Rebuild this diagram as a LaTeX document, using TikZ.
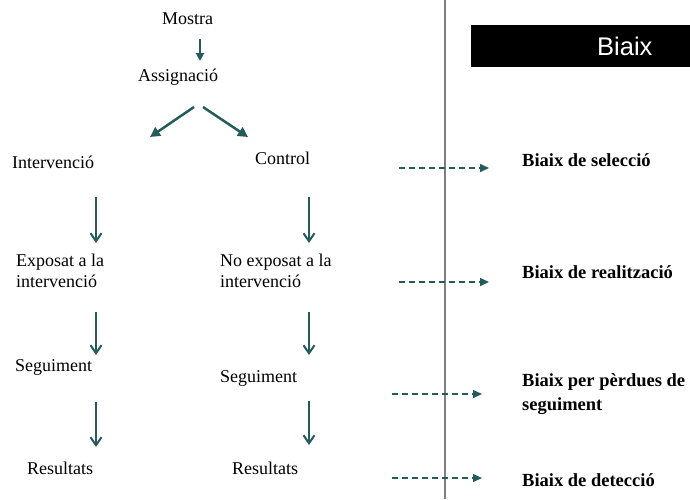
\documentclass[tikz,border=0pt]{standalone}
\usepackage{fontspec}
\setmainfont{Liberation Serif}
\newfontfamily\boxfont{Liberation Sans}
\usetikzlibrary{arrows.meta,calc}

\definecolor{flowteal}{HTML}{255B5B}
\definecolor{rulegray}{HTML}{808080}

% stacked lines whose baseline is the first line
\newcommand{\twolines}[2]{\begin{tabular}[t]{@{}l@{}}#1\\#2\end{tabular}}

\tikzset{
  lbl/.style={anchor=base west, inner sep=0pt, font=\fontsize{18}{21}\selectfont},
  bias/.style={anchor=base west, inner sep=0pt, font=\fontsize{18.5}{24}\selectfont\bfseries},
  smallarr/.style={draw=flowteal, line width=2pt, -{Triangle[length=8pt,width=8pt]}},
  diagarr/.style={draw=flowteal, line width=2.5pt, -{Triangle[length=10pt,width=10pt]}},
  flowarr/.style={draw=flowteal, line width=2pt, -{Straight Barb[length=8pt,width=11pt]}},
  biasarr/.style={draw=flowteal, line width=1.5pt, dash pattern=on 6pt off 4pt, -{Triangle[length=9pt,width=8pt]}}
}

\begin{document}
\begin{tikzpicture}[x=1pt,y=-1pt]
\useasboundingbox (0,0) rectangle (690,499);

% separator between the study design and the list of biases
\draw[rulegray, line width=1.5pt] (445,0) -- (445,499);

% header box
\node (biaixbox) [fill=black, anchor=north west, inner sep=0pt, minimum width=219pt, minimum height=42pt] at (471,25) {};
\node (biaix) [anchor=base west, inner sep=0pt, text=white, font=\boxfont\fontsize{25.5}{28}\selectfont] at (597,55) {Biaix};

% study design
\node (mostra) [lbl] at (162,24.3) {Mostra};
\node (assign) [lbl] at (138,81.7) {Assignació};
\node (interv) [lbl] at (12,168) {Intervenció};
\node (control) [lbl] at (255,164) {Control};
\node (expo) [lbl] at (16,266.7) {\twolines{Exposat a la}{intervenció}};
\node (noexpo) [lbl] at (220,266.7) {\twolines{No exposat a la}{intervenció}};
\node (seguL) [lbl] at (15,371) {Seguiment};
\node (seguR) [lbl] at (220,382.7) {Seguiment};
\node (resL) [lbl] at (27,474) {Resultats};
\node (resR) [lbl] at (232,474) {Resultats};

% biases
\node (selec) [bias] at (522,166.7) {Biaix de selecció};
\node (realit) [bias] at (522,278.3) {Biaix de realització};
\node (perdues) [bias] at (522,386.7) {\twolines{Biaix per pèrdues de}{seguiment}};
\node (detec) [bias] at (522,486.7) {Biaix de detecció};

% column guides
\coordinate (cM) at (200,0);
\coordinate (cL) at (96,0);
\coordinate (cR) at (309,0);

% sample to allocation
\draw[smallarr, shorten <=14.7pt, shorten >=20.7pt] (mostra.base -| cM) -- (assign.base -| cM);

% allocation split
\draw[diagarr] ($(assign.base west)+(56,25.3)$) -- ($(interv.base west)+(138,-31)$);
\draw[diagarr] ($(assign.base west)+(65,25.3)$) -- ($(control.base west)+(-7,-27)$);

% intervention arm
\draw[flowarr, shorten <=29pt, shorten >=23.7pt] (interv.base -| cL) -- (expo.base -| cL);
\draw[flowarr, shorten <=45.3pt, shorten >=16pt] (expo.base -| cL) -- (seguL.base -| cL);
\draw[flowarr, shorten <=31pt, shorten >=27pt] (seguL.base -| cL) -- (resL.base -| cL);

% control arm
\draw[flowarr, shorten <=33pt, shorten >=23.7pt] (control.base -| cR) -- (noexpo.base -| cR);
\draw[flowarr, shorten <=45.3pt, shorten >=27.7pt] (noexpo.base -| cR) -- (seguR.base -| cR);
\draw[flowarr, shorten <=18.3pt, shorten >=29pt] (seguR.base -| cR) -- (resR.base -| cR);

% pointers to the biases
\coordinate (b1) at (399,168);
\coordinate (b2) at (399,282);
\coordinate (b3) at (392,394);
\coordinate (b4) at (392,478);
\draw[biasarr, shorten >=33pt] (b1) -- (b1 -| selec.west);
\draw[biasarr, shorten >=33pt] (b2) -- (b2 -| realit.west);
\draw[biasarr, shorten >=40pt] (b3) -- (b3 -| perdues.west);
\draw[biasarr, shorten >=40pt] (b4) -- (b4 -| detec.west);
\end{tikzpicture}
\end{document}
